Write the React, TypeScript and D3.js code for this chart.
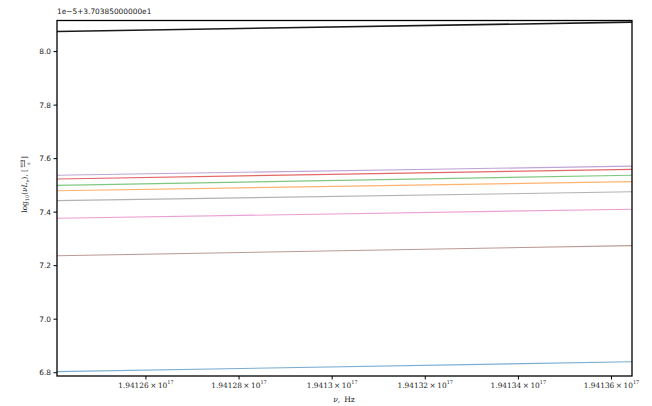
import React from "react";
import * as d3 from "d3";

// Frequency range (units of 1e17 Hz) shared by every curve
const nu: number[] = [1.9412409, 1.9413644];

// log10(nu L_nu) at the two ends of the frequency range, one array per curve
const seriesBlack: number[] = [8.075, 8.11];
const seriesPurple: number[] = [7.538, 7.572];
const seriesRed: number[] = [7.524, 7.56];
const seriesGreen: number[] = [7.5, 7.538];
const seriesOrange: number[] = [7.48, 7.514];
const seriesGray: number[] = [7.443, 7.476];
const seriesPink: number[] = [7.377, 7.411];
const seriesBrown: number[] = [7.237, 7.275];
const seriesBlue: number[] = [6.804, 6.841];

const xTicks: number[] = [1.94126, 1.94128, 1.9413, 1.94132, 1.94134, 1.94136];
const xTickLabels: string[] = ["1.94126", "1.94128", "1.9413", "1.94132", "1.94134", "1.94136"];
const yTicks: number[] = [6.8, 7.0, 7.2, 7.4, 7.6, 7.8, 8.0];
const offsetText = "1e\u22125+3.70385000000e1";

const W = 652;
const H = 406;
const left = 57;
const right = 632;
const top = 20.5;
const bottom = 376;

const curves = [
  { values: seriesBlue, color: "#1f77b4", width: 1.1, opacity: 0.6 },
  { values: seriesBrown, color: "#8c564b", width: 1.1, opacity: 0.6 },
  { values: seriesPink, color: "#e377c2", width: 1.1, opacity: 0.7 },
  { values: seriesGray, color: "#7f7f7f", width: 1.1, opacity: 0.6 },
  { values: seriesOrange, color: "#ff7f0e", width: 1.1, opacity: 0.6 },
  { values: seriesGreen, color: "#2ca02c", width: 1.1, opacity: 0.6 },
  { values: seriesRed, color: "#d62728", width: 1.1, opacity: 0.7 },
  { values: seriesPurple, color: "#9467bd", width: 1.1, opacity: 0.6 },
  { values: seriesBlack, color: "#000000", width: 1.6, opacity: 0.9 },
];

export default function App() {
  const x = d3.scaleLinear().domain([nu[0], nu[nu.length - 1]]).range([left, right]);
  const y = d3.scaleLinear().domain([6.7877, 8.1162]).range([bottom, top]);
  const line = d3
    .line<number>()
    .x((_, i) => x(nu[i]))
    .y((v) => y(v));

  const sans = "DejaVu Sans, sans-serif";
  const serif = "DejaVu Serif, serif";

  return (
    <svg
      width={W}
      height={H}
      style={{ position: "absolute", left: 0, top: 0, background: "#fff" }}
    >
      <rect x={0} y={0} width={W} height={H} fill="#fff" />
      <defs>
        <clipPath id="plot-area">
          <rect x={left} y={top} width={right - left} height={bottom - top} />
        </clipPath>
      </defs>

      <g clipPath="url(#plot-area)">
        {curves.map((c, i) => (
          <path
            key={i}
            d={line(c.values) || ""}
            fill="none"
            stroke={c.color}
            strokeWidth={c.width}
            strokeOpacity={c.opacity}
          />
        ))}
      </g>

      {/* frame */}
      <rect
        x={left}
        y={top}
        width={right - left}
        height={bottom - top}
        fill="none"
        stroke="#000"
        strokeWidth={1.3}
      />

      {/* y axis ticks */}
      {yTicks.map((t) => (
        <g key={t}>
          <line x1={left - 3.5} x2={left} y1={y(t)} y2={y(t)} stroke="#000" strokeWidth={1} />
          <text
            x={left - 6}
            y={y(t)}
            dy="0.35em"
            textAnchor="end"
            fontFamily={sans}
            fontSize={7.4}
            fill="#222"
          >
            {d3.format(".1f")(t)}
          </text>
        </g>
      ))}

      {/* x axis ticks */}
      {xTicks.map((t, i) => (
        <g key={t}>
          <line x1={x(t)} x2={x(t)} y1={bottom} y2={bottom + 3.5} stroke="#000" strokeWidth={1} />
          <text
            x={x(t)}
            y={bottom + 11.5}
            textAnchor="middle"
            fontFamily={serif}
            fontSize={7.4}
            fill="#222"
          >
            {xTickLabels[i]}
            <tspan dx={1.5}>{"\u00d7"}</tspan>
            <tspan dx={1.5}>10</tspan>
            <tspan dy={-3.2} fontSize={5}>17</tspan>
          </text>
        </g>
      ))}

      {/* axis offset text */}
      <text x={left} y={14} fontFamily={sans} fontSize={7.4} fill="#222">
        {offsetText}
      </text>

      {/* x label */}
      <text
        x={344}
        y={402}
        textAnchor="middle"
        fontFamily={serif}
        fontSize={7.6}
        fill="#222"
        fontStyle="italic"
      >
        {"\u03bd,"}
        <tspan dx={4} fontStyle="normal">Hz</tspan>
      </text>

      {/* y label */}
      <g transform="translate(27,196) rotate(-90)">
        <text x={27} y={0} textAnchor="end" fontFamily={serif} fontSize={7.4} fill="#222">
          log
          <tspan dy={2} fontSize={5}>10</tspan>
          <tspan dy={-2}>(</tspan>
          <tspan fontStyle="italic">{"\u03bdL"}</tspan>
          <tspan dy={2} fontSize={5} fontStyle="italic">{"\u03bd"}</tspan>
          <tspan dy={-2}>), [</tspan>
        </text>
        <text x={32.5} y={-3.8} textAnchor="middle" fontFamily={serif} fontSize={4.6} fill="#222">
          erg
        </text>
        <line x1={29} x2={36} y1={-2.4} y2={-2.4} stroke="#222" strokeWidth={0.6} />
        <text x={32.5} y={2.6} textAnchor="middle" fontFamily={serif} fontSize={4.6} fill="#222">
          s
        </text>
        <text x={37} y={0} textAnchor="start" fontFamily={serif} fontSize={7.4} fill="#222">
          ]
        </text>
      </g>
    </svg>
  );
}
